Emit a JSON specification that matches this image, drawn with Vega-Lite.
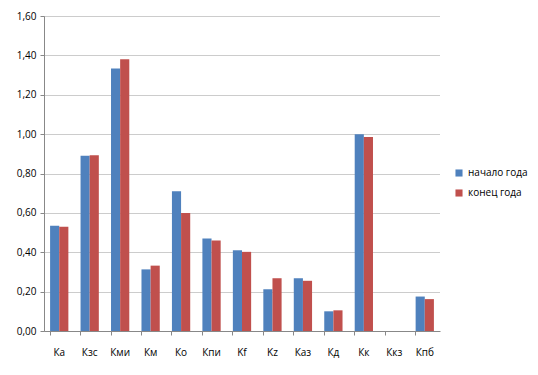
{
  "$schema": "https://vega.github.io/schema/vega-lite/v6.json",
  "width": 396,
  "height": 315,
  "autosize": {"type": "none"},
  "padding": {"left": 44, "top": 16, "right": 98, "bottom": 44},
  "background": "white",
  "data": {
    "values": [
      {"k": "Ка", "s": "начало года", "v": 0.535},
      {"k": "Ка", "s": "конец года", "v": 0.53},
      {"k": "Кзс", "s": "начало года", "v": 0.89},
      {"k": "Кзс", "s": "конец года", "v": 0.893},
      {"k": "Кми", "s": "начало года", "v": 1.333},
      {"k": "Кми", "s": "конец года", "v": 1.38},
      {"k": "Км", "s": "начало года", "v": 0.313},
      {"k": "Км", "s": "конец года", "v": 0.332},
      {"k": "Ко", "s": "начало года", "v": 0.71},
      {"k": "Ко", "s": "конец года", "v": 0.60},
      {"k": "Кпи", "s": "начало года", "v": 0.47},
      {"k": "Кпи", "s": "конец года", "v": 0.46},
      {"k": "Kf", "s": "начало года", "v": 0.41},
      {"k": "Kf", "s": "конец года", "v": 0.402},
      {"k": "Kz", "s": "начало года", "v": 0.212},
      {"k": "Kz", "s": "конец года", "v": 0.268},
      {"k": "Каз", "s": "начало года", "v": 0.268},
      {"k": "Каз", "s": "конец года", "v": 0.255},
      {"k": "Кд", "s": "начало года", "v": 0.10},
      {"k": "Кд", "s": "конец года", "v": 0.105},
      {"k": "Кк", "s": "начало года", "v": 1.0},
      {"k": "Кк", "s": "конец года", "v": 0.985},
      {"k": "Ккз", "s": "начало года", "v": 0},
      {"k": "Ккз", "s": "конец года", "v": 0},
      {"k": "Кпб", "s": "начало года", "v": 0.175},
      {"k": "Кпб", "s": "конец года", "v": 0.162}
    ]
  },
  "mark": {"type": "bar"},
  "encoding": {
    "x": {
      "field": "k",
      "type": "nominal",
      "sort": null,
      "scale": {"paddingInner": 0.4, "paddingOuter": 0.2},
      "axis": {
        "title": null,
        "labelAngle": 0,
        "labelFont": "Open Sans",
        "labelFontSize": 10,
        "labelColor": "#000",
        "labelPadding": 12,
        "bandPosition": 0,
        "tickSize": 4,
        "tickColor": "#888",
        "domainColor": "#888",
        "grid": false
      }
    },
    "xOffset": {"field": "s", "type": "nominal", "sort": ["начало года", "конец года"]},
    "y": {
      "field": "v",
      "type": "quantitative",
      "scale": {"domain": [0, 1.6], "nice": false},
      "axis": {
        "title": null,
        "values": [0, 0.2, 0.4, 0.6, 0.8, 1.0, 1.2, 1.4, 1.6],
        "labelExpr": "replace(format(datum.value, '.2f'), '.', ',')",
        "labelFont": "Open Sans",
        "labelFontSize": 10,
        "labelColor": "#000",
        "labelPadding": 4,
        "ticks": true,
        "tickSize": 4,
        "tickColor": "#888",
        "domainColor": "#888",
        "gridColor": "#999",
        "gridDash": [1, 1]
      }
    },
    "color": {
      "field": "s",
      "type": "nominal",
      "sort": ["начало года", "конец года"],
      "scale": {"domain": ["начало года", "конец года"], "range": ["#4F81BD", "#C0504D"]},
      "legend": {
        "title": null,
        "orient": "none",
        "legendX": 410,
        "legendY": 152,
        "symbolType": "square",
        "symbolSize": 50,
        "rowPadding": 10,
        "labelFont": "Open Sans",
        "labelFontSize": 10,
        "labelColor": "#000"
      }
    }
  },
  "config": {"view": {"stroke": null}}
}
